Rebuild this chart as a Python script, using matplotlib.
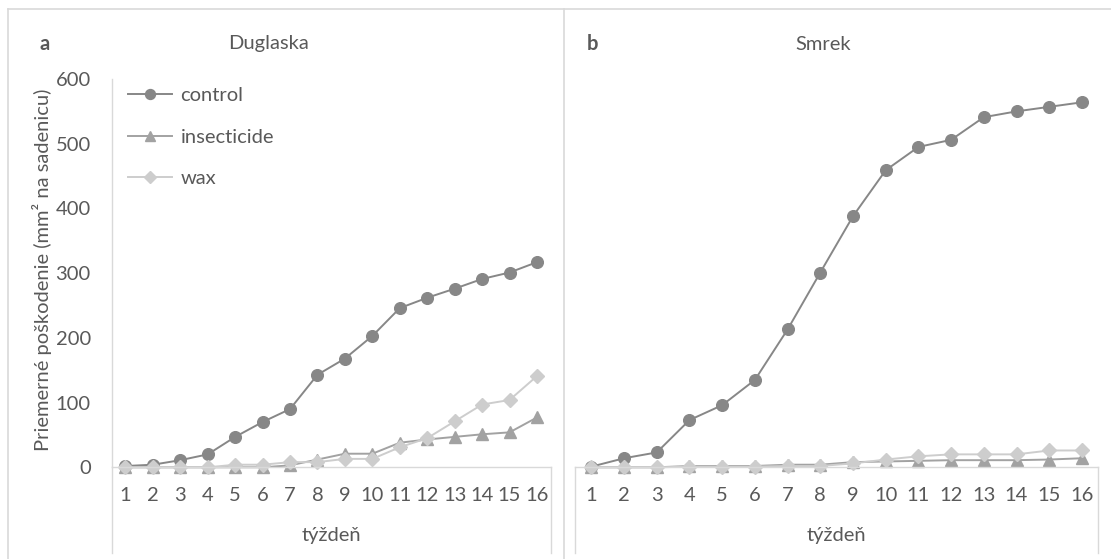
import matplotlib
matplotlib.use("Agg")
import matplotlib.pyplot as plt
from matplotlib.lines import Line2D

plt.rcParams['font.family'] = ['Lato', 'DejaVu Sans']

weeks = list(range(1, 17))
week_labels = [str(w) for w in weeks]

series_names = ["control", "insecticide", "wax"]

# Duglaska (panel a)
dug_control = [2, 4, 11, 20, 47, 70, 90, 143, 168, 203, 246, 262, 276, 291, 301, 317]
dug_insecticide = [0, 0, 0, 0, 0, 0, 3, 12, 21, 21, 38, 43, 47, 51, 54, 77]
dug_wax = [0, 0, 0, 0, 4, 4, 8, 8, 13, 13, 31, 45, 71, 97, 104, 141]

# Smrek (panel b)
smr_control = [1, 14, 23, 73, 96, 135, 213, 301, 388, 459, 495, 506, 541, 550, 557, 564]
smr_insecticide = [0, 0, 0, 2, 2, 2, 4, 4, 8, 9, 10, 11, 11, 11, 12, 14]
smr_wax = [0, 0, 0, 1, 1, 1, 2, 2, 6, 12, 17, 20, 20, 20, 26, 26]

y_ticks = [0, 100, 200, 300, 400, 500, 600]

colors = {"control": "#878787", "insecticide": "#a2a2a2", "wax": "#cdcdcd"}
markers = {"control": "o", "insecticide": "^", "wax": "D"}
msizes = {"control": 8.4, "insecticide": 8.6, "wax": 6.8}

text_color = "#595959"
grid_color = "#d9d9d9"
fs = 14.5

W, H = 1111, 559
fig = plt.figure(figsize=(W / 100, H / 100), dpi=100)


def fx(px):
    return px / W


def fy(py):
    return 1 - py / H


y_axis_top, y_axis_bot = 79, 467.3
box_bottom = 553

panels = [
    dict(x0=111.7, x1=550.7, letter="a", title="Duglaska",
         data=[dug_control, dug_insecticide, dug_wax], yticks=True, legend=True),
    dict(x0=575.0, x1=1098.3, letter="b", title="Smrek",
         data=[smr_control, smr_insecticide, smr_wax], yticks=False, legend=False),
]

for p in panels:
    ax = fig.add_axes([fx(p["x0"]), fy(y_axis_bot), fx(p["x1"] - p["x0"]),
                       (y_axis_bot - y_axis_top) / H])
    for name, vals in zip(series_names, p["data"]):
        ax.plot(weeks, vals, color=colors[name], marker=markers[name],
                markersize=msizes[name], markerfacecolor=colors[name],
                markeredgecolor=colors[name], linewidth=1.4, label=name,
                clip_on=False)
    ax.set_xlim(0.5, 16.5)
    ax.set_ylim(0, 600)
    ax.set_xticks(weeks)
    ax.set_xticklabels(week_labels)
    ax.set_yticks(y_ticks)
    ax.tick_params(length=0, labelsize=fs, colors=text_color, pad=14)
    ax.tick_params(axis='y', pad=15)
    if not p["yticks"]:
        ax.set_yticklabels([])
    for s in ["top", "right"]:
        ax.spines[s].set_visible(False)
    ax.spines["bottom"].set_color(grid_color)
    ax.spines["bottom"].set_linewidth(1.0)
    if p["yticks"]:
        ax.spines["left"].set_color(grid_color)
        ax.spines["left"].set_linewidth(1.0)
    else:
        ax.spines["left"].set_visible(False)
    ax.patch.set_alpha(0)

    # category box below the axis
    fig.add_artist(Line2D([fx(p["x0"]), fx(p["x0"])], [fy(y_axis_bot), fy(box_bottom)],
                          color=grid_color, linewidth=1.0))
    fig.add_artist(Line2D([fx(p["x1"]), fx(p["x1"])], [fy(y_axis_bot), fy(box_bottom)],
                          color=grid_color, linewidth=1.0))

    cx = (p["x0"] + p["x1"]) / 2
    fig.text(fx(cx), fy(536), "týždeň", ha="center", va="center",
             fontsize=fs, color=text_color)

    if p["legend"]:
        ax.legend(loc="upper left", bbox_to_anchor=(fx(128), fy(87)),
                  bbox_transform=fig.transFigure, frameon=False,
                  fontsize=fs, labelcolor=text_color, handlelength=2.2,
                  handletextpad=0.4, labelspacing=1.22, borderpad=0,
                  borderaxespad=0, markerscale=0.85)

fig.text(fx(40), fy(44), "a", ha="left", va="center", fontsize=fs,
         fontweight="bold", color=text_color)
fig.text(fx(268), fy(44), "Duglaska", ha="center", va="center", fontsize=fs,
         color=text_color)
fig.text(fx(592), fy(44), "b", ha="center", va="center", fontsize=fs,
         fontweight="bold", color=text_color)
fig.text(fx(823), fy(44), "Smrek", ha="center", va="center", fontsize=fs,
         color=text_color)

fig.text(fx(42), fy(270), "Priemerné poškodenie (mm² na sadenicu)",
         rotation=90, ha="center", va="center", fontsize=fs, color=text_color)

# outer frame and divider between the two charts
fig.add_artist(Line2D([fx(8), 1], [fy(9), fy(9)], color=grid_color, linewidth=1.2))
fig.add_artist(Line2D([fx(8), fx(8)], [fy(9), 0], color=grid_color, linewidth=1.2))
fig.add_artist(Line2D([fx(563.5), fx(563.5)], [fy(9), 0], color=grid_color, linewidth=1.2))

fig.savefig("out.png", dpi=100, facecolor="white")
